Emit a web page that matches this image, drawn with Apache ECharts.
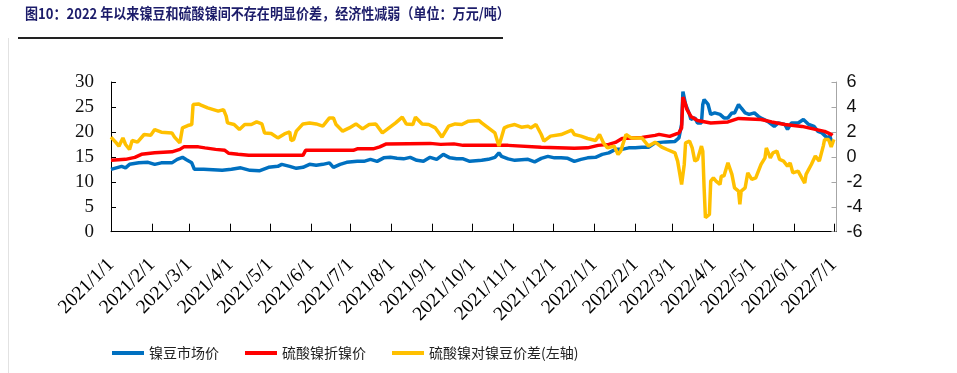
<!DOCTYPE html>
<html><head><meta charset="utf-8">
<script src="https://cdn.jsdelivr.net/npm/echarts@6/dist/echarts.min.js"></script>
<style>html,body{margin:0;padding:0;background:#fff}#c{width:957px;height:373px}</style>
</head><body><div id="c"></div>
<script>
const titleText = '图10：2022 年以来镍豆和硫酸镍间不存在明显价差，经济性减弱（单位：万元/吨）';
const seriesNames = ['镍豆市场价', '硫酸镍折镍价', '硫酸镍对镍豆价差(左轴)'];
const leftTicks = {min: 0, max: 30, interval: 5};
const rightTicks = {min: -6, max: 6, interval: 2};

const nickelBean = [['2021-01-01',12.5],['2021-01-09',13.1],['2021-01-12',12.8],['2021-01-15',13.5],['2021-01-22',13.8],['2021-01-29',13.9],['2021-02-03',13.5],['2021-02-08',13.8],['2021-02-16',13.8],['2021-02-20',14.5],['2021-02-24',14.9],['2021-02-27',14.4],['2021-03-03',13.8],['2021-03-05',12.5],['2021-03-12',12.5],['2021-03-19',12.4],['2021-03-26',12.3],['2021-04-02',12.5],['2021-04-09',12.8],['2021-04-16',12.3],['2021-04-23',12.2],['2021-04-30',12.9],['2021-05-07',13.1],['2021-05-10',13.5],['2021-05-16',13.1],['2021-05-21',12.7],['2021-05-26',12.9],['2021-05-31',13.5],['2021-06-05',13.3],['2021-06-10',13.5],['2021-06-15',13.8],['2021-06-18',12.9],['2021-06-23',13.5],['2021-06-28',13.9],['2021-07-06',14.1],['2021-07-11',14.1],['2021-07-16',14.5],['2021-07-21',14.1],['2021-07-26',14.8],['2021-07-31',14.9],['2021-08-05',14.7],['2021-08-10',14.6],['2021-08-15',14.9],['2021-08-20',14.3],['2021-08-25',14.1],['2021-08-30',14.9],['2021-09-04',14.5],['2021-09-09',15.5],['2021-09-14',14.8],['2021-09-19',14.6],['2021-09-24',14.6],['2021-09-29',14.1],['2021-10-08',14.3],['2021-10-13',14.5],['2021-10-18',14.9],['2021-10-21',15.8],['2021-10-23',15.1],['2021-10-28',14.6],['2021-11-02',14.3],['2021-11-07',14.4],['2021-11-12',14.5],['2021-11-17',14.0],['2021-11-22',14.7],['2021-11-27',15.1],['2021-12-02',14.8],['2021-12-07',14.8],['2021-12-12',14.7],['2021-12-17',14.1],['2021-12-22',14.5],['2021-12-27',14.8],['2022-01-02',14.9],['2022-01-07',15.5],['2022-01-12',15.8],['2022-01-17',16.5],['2022-01-22',16.5],['2022-01-27',16.8],['2022-02-01',16.8],['2022-02-06',16.9],['2022-02-11',16.9],['2022-02-16',17.8],['2022-02-24',18.0],['2022-03-03',18.1],['2022-03-06',18.8],['2022-03-08',21.5],['2022-03-09',28.1],['2022-03-11',25.5],['2022-03-14',23.5],['2022-03-15',22.5],['2022-03-18',22.8],['2022-03-20',21.8],['2022-03-23',21.8],['2022-03-24',25.5],['2022-03-25',26.5],['2022-03-28',25.5],['2022-03-30',23.5],['2022-04-02',23.8],['2022-04-06',23.5],['2022-04-09',22.8],['2022-04-12',22.8],['2022-04-15',23.8],['2022-04-17',23.8],['2022-04-20',25.5],['2022-04-22',24.8],['2022-04-25',23.8],['2022-04-28',23.5],['2022-05-02',23.8],['2022-05-05',23.1],['2022-05-07',22.8],['2022-05-12',22.1],['2022-05-17',21.1],['2022-05-20',21.8],['2022-05-25',21.5],['2022-05-27',20.5],['2022-05-30',21.8],['2022-06-04',21.8],['2022-06-08',22.5],['2022-06-12',21.5],['2022-06-16',21.1],['2022-06-19',20.1],['2022-06-22',19.8],['2022-06-26',18.8],['2022-06-28',19.1],['2022-06-30',17.5]];

const sulfateNickel = [['2021-01-01',14.3],['2021-01-12',14.5],['2021-01-19',14.9],['2021-01-24',15.5],['2021-02-03',15.8],['2021-02-16',16.0],['2021-02-22',16.5],['2021-02-25',17.0],['2021-03-08',17.0],['2021-03-13',16.8],['2021-03-21',16.5],['2021-03-28',16.3],['2021-03-31',15.7],['2021-04-07',15.5],['2021-04-15',15.3],['2021-05-26',15.3],['2021-05-28',16.3],['2021-07-03',16.3],['2021-07-06',16.6],['2021-07-18',16.6],['2021-07-23',17.0],['2021-07-28',17.6],['2021-08-30',17.7],['2021-09-07',17.5],['2021-09-17',17.6],['2021-09-24',17.3],['2021-10-28',17.3],['2021-11-22',16.9],['2021-12-17',16.7],['2021-12-27',16.8],['2022-01-04',17.3],['2022-01-12',17.5],['2022-01-17',17.9],['2022-01-22',18.7],['2022-02-06',18.9],['2022-02-16',19.3],['2022-02-19',19.5],['2022-02-27',19.1],['2022-03-06',19.8],['2022-03-08',20.8],['2022-03-09',27.0],['2022-03-11',25.5],['2022-03-12',24.5],['2022-03-15',23.1],['2022-03-20',22.3],['2022-03-30',21.8],['2022-04-12',22.0],['2022-04-20',22.7],['2022-05-07',22.5],['2022-05-15',22.0],['2022-05-25',21.5],['2022-06-07',21.1],['2022-06-17',20.5],['2022-06-24',20.1],['2022-06-29',19.5],['2022-06-30',19.3]];

const priceSpread = [['2021-01-01',1.58],['2021-01-05',1.12],['2021-01-07',0.86],['2021-01-10',1.52],['2021-01-12',0.99],['2021-01-15',0.59],['2021-01-17',1.31],['2021-01-21',1.18],['2021-01-26',1.79],['2021-01-31',1.74],['2021-02-03',2.19],['2021-02-08',1.98],['2021-02-16',1.92],['2021-02-18',1.58],['2021-02-22',1.12],['2021-02-24',2.32],['2021-02-28',2.51],['2021-03-03',2.59],['2021-03-04',4.19],['2021-03-08',4.24],['2021-03-10',4.14],['2021-03-15',3.92],['2021-03-23',3.66],['2021-03-27',3.79],['2021-03-29',3.26],['2021-03-30',2.72],['2021-04-04',2.59],['2021-04-08',2.19],['2021-04-12',2.59],['2021-04-17',2.59],['2021-04-21',2.8],['2021-04-25',2.64],['2021-04-27',1.92],['2021-05-02',1.87],['2021-05-07',1.52],['2021-05-12',1.84],['2021-05-16',2.0],['2021-05-17',1.31],['2021-05-19',1.39],['2021-05-21',2.06],['2021-05-26',2.64],['2021-05-31',2.72],['2021-06-05',2.64],['2021-06-10',2.46],['2021-06-15',3.12],['2021-06-18',3.12],['2021-06-20',2.59],['2021-06-25',2.06],['2021-06-30',2.32],['2021-07-05',2.64],['2021-07-10',2.24],['2021-07-15',2.59],['2021-07-20',2.64],['2021-07-25',1.92],['2021-07-30',2.32],['2021-08-04',2.72],['2021-08-09',3.18],['2021-08-12',2.64],['2021-08-17',2.59],['2021-08-19',3.18],['2021-08-24',2.64],['2021-08-29',2.59],['2021-09-03',2.32],['2021-09-08',1.58],['2021-09-13',2.46],['2021-09-18',2.64],['2021-09-23',2.59],['2021-09-28',2.86],['2021-10-06',2.91],['2021-10-08',2.72],['2021-10-13',2.32],['2021-10-18',1.92],['2021-10-21',0.86],['2021-10-25',2.32],['2021-10-28',2.46],['2021-11-02',2.59],['2021-11-07',2.38],['2021-11-12',2.46],['2021-11-14',2.32],['2021-11-18',2.59],['2021-11-22',1.79],['2021-11-24',1.26],['2021-11-29',1.66],['2021-12-07',1.79],['2021-12-15',2.14],['2021-12-17',1.79],['2021-12-22',1.66],['2021-12-27',1.47],['2022-01-02',1.31],['2022-01-05',1.79],['2022-01-08',1.12],['2022-01-11',0.72],['2022-01-16',0.86],['2022-01-19',0.19],['2022-01-21',0.46],['2022-01-25',1.79],['2022-01-29',1.52],['2022-02-06',1.52],['2022-02-11',0.86],['2022-02-16',1.18],['2022-02-21',0.78],['2022-02-25',0.59],['2022-03-03',0.32],['2022-03-05',-0.34],['2022-03-08',-2.21],['2022-03-09',-2.34],['2022-03-10',-0.61],['2022-03-11',1.12],['2022-03-14',1.26],['2022-03-16',0.72],['2022-03-18',-0.34],['2022-03-20',-0.21],['2022-03-23',0.86],['2022-03-24',0.46],['2022-03-25',-2.48],['2022-03-26',-4.88],['2022-03-29',-4.61],['2022-03-30',-1.94],['2022-04-01',-1.68],['2022-04-03',-1.94],['2022-04-06',-2.21],['2022-04-07',-1.54],['2022-04-09',-1.54],['2022-04-12',-0.48],['2022-04-15',-1.41],['2022-04-17',-2.48],['2022-04-20',-2.74],['2022-04-21',-3.81],['2022-04-22',-2.74],['2022-04-25',-2.48],['2022-04-27',-1.28],['2022-04-30',-1.81],['2022-05-03',-1.68],['2022-05-07',-0.61],['2022-05-10',-0.08],['2022-05-11',0.72],['2022-05-14',-0.08],['2022-05-16',0.32],['2022-05-19',0.46],['2022-05-21',-0.21],['2022-05-24',-0.34],['2022-05-27',-0.74],['2022-05-29',-0.48],['2022-05-31',-1.28],['2022-06-04',-1.14],['2022-06-09',-2.1],['2022-06-10',-1.41],['2022-06-14',-0.61],['2022-06-17',0.06],['2022-06-20',-0.34],['2022-06-23',0.86],['2022-06-24',1.39],['2022-06-27',1.39],['2022-06-29',0.8],['2022-07-01',1.4]];

// month-start ticks 2021/1/1 .. 2022/7/1
const monthTicks = [];
for (let i = 0; i <= 18; i++) monthTicks.push(new Date(2021, i, 1).getTime());

function toTime(pairs) {
  return pairs.map(p => {
    const [y, m, d] = p[0].split('-').map(Number);
    return [new Date(y, m - 1, d).getTime(), p[1]];
  });
}

const chart = echarts.init(document.getElementById('c'), null, {renderer: 'canvas'});
const serif = '"Liberation Serif", "Times New Roman", serif';
const cjk = '"Noto Sans CJK SC", sans-serif';
chart.setOption({
  animation: false,
  graphic: [
    {type: 'text', x: 25, y: 6, scaleX: 0.9, z: 10,
     style: {text: titleText, font: 'bold 14.5px "Noto Sans CJK SC", sans-serif', fill: '#1c1c6a', verticalAlign: 'top'}},
    {type: 'rect', shape: {x: 18, y: 37, width: 485, height: 2}, style: {fill: '#222'}},
    {type: 'rect', shape: {x: 8, y: 38, width: 1, height: 335}, style: {fill: '#e2e2e2'}}
  ],
  legend: {
    data: seriesNames, left: 112, top: 346, padding: 0, itemGap: 26,
    icon: 'rect', itemWidth: 32, itemHeight: 4,
    textStyle: {fontFamily: cjk, fontSize: 14, color: '#222'}
  },
  grid: {left: 111, right: 120.5, top: 82, bottom: 141.3, outerBoundsMode: 'none'},
  xAxis: {
    type: 'value',
    min: new Date(2021, 0, 1).getTime(), max: new Date(2022, 6, 3).getTime(),
    axisLine: {lineStyle: {color: '#000', width: 1}},
    axisTick: {inside: true, length: 8, lineStyle: {color: '#000'}, customValues: monthTicks},
    splitLine: {show: false},
    axisLabel: {
      customValues: monthTicks, rotate: 45, margin: 30, color: '#000',
      fontFamily: serif, fontSize: 19.5, hideOverlap: false,
      showMinLabel: true, showMaxLabel: true,
      formatter: v => { const d = new Date(v); return d.getFullYear() + '/' + (d.getMonth() + 1) + '/' + d.getDate(); }
    }
  },
  yAxis: [
    {
      type: 'value', min: leftTicks.min, max: leftTicks.max, interval: leftTicks.interval,
      axisLine: {show: true, lineStyle: {color: '#000'}},
      axisTick: {show: true, inside: true, length: 5, lineStyle: {color: '#000'}},
      splitLine: {show: false},
      axisLabel: {fontFamily: serif, fontSize: 19, color: '#111', margin: 17}
    },
    {
      type: 'value', min: rightTicks.min, max: rightTicks.max, interval: rightTicks.interval,
      axisLine: {show: true, lineStyle: {color: '#a6a6a6'}},
      axisTick: {show: true, inside: true, length: 5, lineStyle: {color: '#a6a6a6'}},
      splitLine: {show: false},
      axisLabel: {fontFamily: '"Liberation Sans", Arial, sans-serif', fontSize: 18, color: '#111', margin: 10}
    }
  ],
  series: [
    {name: seriesNames[0], type: 'line', data: toTime(nickelBean), yAxisIndex: 0, showSymbol: false, symbol: 'none',
     lineStyle: {color: '#0070C0', width: 3.5}, itemStyle: {color: '#0070C0'}, z: 2},
    {name: seriesNames[1], type: 'line', data: toTime(sulfateNickel), yAxisIndex: 0, showSymbol: false, symbol: 'none',
     lineStyle: {color: '#FF0000', width: 3.5}, itemStyle: {color: '#FF0000'}, z: 3},
    {name: seriesNames[2], type: 'line', data: toTime(priceSpread), yAxisIndex: 1, showSymbol: false, symbol: 'none',
     lineStyle: {color: '#FFC000', width: 3.5}, itemStyle: {color: '#FFC000'}, z: 4}
  ]
});
</script></body></html>
